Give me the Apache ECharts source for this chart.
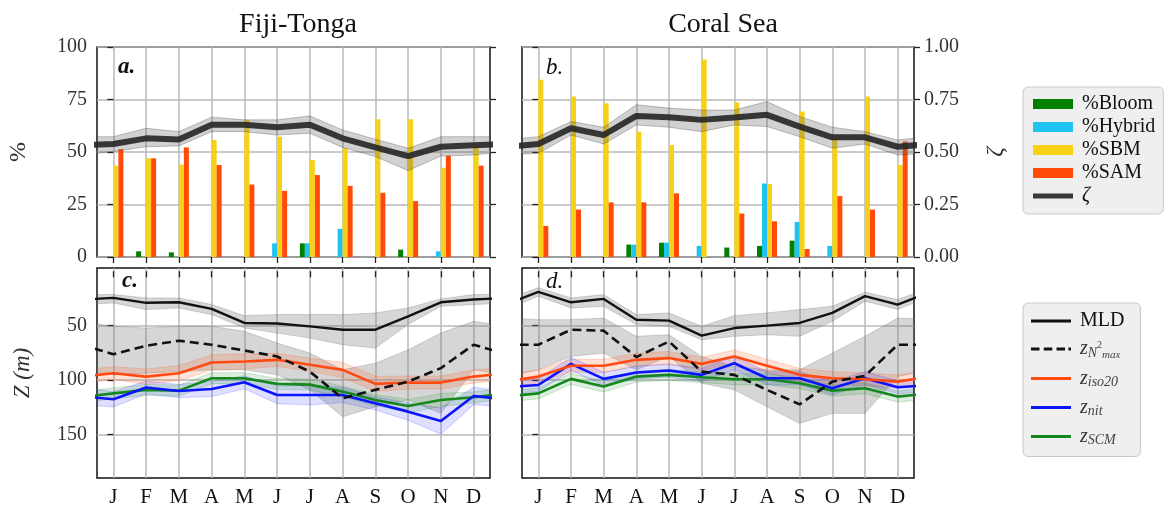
<!DOCTYPE html>
<html><head><meta charset="utf-8">
<script src="https://cdn.jsdelivr.net/npm/echarts@6/dist/echarts.min.js"></script>
<style>html,body{margin:0;padding:0;background:#fff}#c{width:1170px;height:518px}</style>
</head><body><div id="c"></div><script>
// ---------- data ----------
const months = ['J','F','M','A','M','J','J','A','S','O','N','D'];
const monthIdx = [0,1,2,3,4,5,6,7,8,9,10,11];
const pctTicks = [0,25,50,75,100];
const depthTicks = [50,100,150];

// Fiji-Tonga (panel a)
const ftBloom  = [0,2.7,2.2,0,0,0,6.5,0,0,3.5,0,0];
const ftHybrid = [0,0,0,0,0,6.5,6.5,13.4,0,0,2.7,0];
const ftSBM    = [43.5,47,44,55.7,65.3,57.3,46.2,51.8,65.6,65.6,42.5,53.3];
const ftSAM    = [51.3,47,52.2,43.8,34.5,31.5,39,33.9,30.6,26.6,48.2,43.5];
const ftZeta   = [0.538,0.565,0.56,0.63,0.63,0.618,0.63,0.565,0.522,0.48,0.525,0.532];
const ftZetaLo = [0.502,0.525,0.529,0.597,0.597,0.581,0.589,0.522,0.478,0.411,0.481,0.486];
const ftZetaHi = [0.573,0.613,0.597,0.666,0.653,0.653,0.672,0.605,0.561,0.518,0.573,0.573];

// Coral Sea (panel b)
const csBloom  = [0,0,0,5.9,6.8,0,4.5,5.3,7.8,0,0,0];
const csHybrid = [0,0,0,5.9,6.8,5.3,0,35,16.7,5.3,0,0];
const csSBM    = [84.4,76.4,73.2,59.7,53.3,94,73.6,34.7,69.3,56.5,76.4,43.8];
const csSAM    = [14.8,22.6,26,26,30.3,0,20.7,17,3.8,29,22.6,55];
const csZeta   = [0.538,0.613,0.581,0.672,0.666,0.653,0.664,0.677,0.621,0.57,0.57,0.525];
const csZetaLo = [0.494,0.581,0.538,0.629,0.618,0.597,0.629,0.621,0.573,0.518,0.538,0.486];
const csZetaHi = [0.573,0.645,0.618,0.725,0.709,0.70,0.70,0.74,0.669,0.618,0.597,0.557];

// Fiji-Tonga depths (panel c)
const ftMLD   = [24.5,29,28.5,34.6,47.5,48,50.6,53.7,53.7,41.4,28.5,26];
const ftMLDlo = [21.4,24.5,24.5,30.6,40.8,39.8,39.8,39.8,38.3,33.7,25.4,21.4];
const ftMLDhi = [29.1,35.2,33.7,39.8,52.2,56.8,61.4,67.5,70.6,49,32.2,30.6];
const ftN2    = [76.2,68.5,63.8,67.5,72.8,78.3,92.2,116.8,109,101.4,89,67.5];
const ftN2lo  = [50.6,52.2,50.6,50.6,55.2,66,75.2,90.6,84.5,72.2,56.8,46];
const ftN2hi  = [95.2,93.7,92.2,90.6,90.6,95.2,109,133.7,124.5,118.3,130.6,90.6];
const ftIso   = [93.7,96.8,93.7,83.8,82.9,81.4,86,90.6,103.5,102.3,102.3,96.8];
const ftIsoSd = [6,7,7,7,7,6,6,7,7,6,6,6];
const ftNit   = [117.7,106.9,110,108.2,102,113.7,113.7,113.7,121.4,129,137.7,114.6];
const ftNitSd = [7,6,6,7,6,8,9,7,6,8,12,8];
const ftScm   = [112.2,109,109.7,98.3,98.3,103.5,104.2,110.6,118.3,123.8,118.3,115.8];
const ftScmSd = [5,5,5,5,5,5,5,5,5,6,6,5];

// Coral Sea depths (panel d)
const csMLD   = [18.9,28.5,25.4,44.5,45.4,59.2,52.2,50,47.5,38.3,22.9,30.6];
const csMLDlo = [15.1,24.5,21.4,39.8,38.3,50.6,40.8,38.3,35.2,32.2,19.2,26];
const csMLDhi = [22.9,33.7,32.2,49,50.6,62.9,59.8,58.3,59.8,46,27.5,35.2];
const csN2    = [67.5,53.7,54.6,78.9,64.5,92.2,95.2,109,122.3,101.4,96.2,67.5];
const csN2lo  = [44.5,44.5,43,59.8,58.3,78.3,87.5,90.6,90.6,75.2,59.8,43];
const csN2hi  = [90.6,78.3,75.2,90.6,78.3,102.9,109,124.5,139.8,130.6,130.6,96.8];
const csIso   = [96.8,86.9,86.9,81.4,79.8,85.1,78.3,86.9,95.2,98.3,99.2,101.4];
const csIsoSd = [6,6,6,6,6,6,6,6,6,6,6,6];
const csNit   = [104.5,85.1,98.9,93.1,91.2,95.2,84.5,98.3,98.3,107.5,98.3,106.6];
const csNitSd = [6,6,6,6,6,6,6,6,6,6,6,6];
const csScm   = [112.2,98.9,106,96.8,95.2,97.4,99.2,99.2,102.9,109.7,107.5,115.2];
const csScmSd = [5,5,5,5,5,5,5,5,5,5,5,5];

// ---------- styling ----------
const SERIF = "'Liberation Serif','DejaVu Serif',serif";
const C = {bloom:'#008000', hybrid:'#1ec3f2', sbm:'#f7d117', sam:'#ff4a0a',
           iso:'#ff4a12', nit:'#0a14ff', scm:'#14881e'};
const GRIDC = '#b9b9b9';

function wrap(arr){
  const out = [[-1, arr[11]]];
  arr.forEach((v,i)=>out.push([i,v]));
  out.push([12, arr[0]]);
  return out;
}
function barSeries(name, arr, color, xi, yi){
  return {type:'bar', name, xAxisIndex:xi, yAxisIndex:yi, barWidth:5, barGap:'0%',
    data: arr.map((v,i)=>[i,v]), itemStyle:{color}, z:2, silent:true};
}
function band(lo, hi, xi, yi, fill, edge, z){
  const L = wrap(lo), H = wrap(hi);
  return {type:'custom', xAxisIndex:xi, yAxisIndex:yi, silent:true, z,
    data:[[0, lo[0]]],
    renderItem:(params, api)=>{
      const cs = params.coordSys;
      const pts = L.map(p=>api.coord(p)).concat(H.slice().reverse().map(p=>api.coord(p)));
      return {type:'polygon', shape:{points:pts},
        style:{fill, stroke:edge, lineWidth:1},
        clipPath:{type:'rect', shape:{x:cs.x, y:cs.y, width:cs.width, height:cs.height}}};
    }};
}
function line(name, arr, xi, yi, color, width, type, z){
  return {type:'line', name, xAxisIndex:xi, yAxisIndex:yi, data: wrap(arr), symbol:'none',
    silent:true, z, lineStyle:{color, width, type: type||'solid'}, itemStyle:{color}};
}
function sdLo(v, sd){ return v.map((x,i)=>x-sd[i]); }
function sdHi(v, sd){ return v.map((x,i)=>x+sd[i]); }

// ---------- axes ----------
const tickStyle = {show:true, inside:false, length:6, lineStyle:{color:'#222', width:1.3}};
function xAx(gi, labels){
  return {type:'value', gridIndex:gi, min:-0.5, max:11.5,
    axisLine:{show:false},
    axisTick:Object.assign({customValues:monthIdx}, tickStyle),
    axisLabel:{show:labels, customValues:monthIdx, formatter:v=>months[Math.round(v)]||'',
      fontFamily:SERIF, fontSize:21, color:'#111', margin:9},
    splitLine:{show:true, lineStyle:{color:GRIDC, width:1.5}}};
}
const yAxes = [
  {type:'value', gridIndex:0, min:0, max:100, interval:25, position:'left',
   name:'%', nameLocation:'middle', nameGap:66, nameTextStyle:{fontFamily:SERIF, fontSize:24, color:'#333'},
   axisLine:{show:false}, axisTick:tickStyle,
   axisLabel:{fontFamily:SERIF, fontSize:20, color:'#333', margin:10},
   splitLine:{show:true, lineStyle:{color:GRIDC, width:1.5}}},
  {type:'value', gridIndex:0, min:0, max:1, interval:0.25, position:'right',
   axisLine:{show:false}, axisTick:tickStyle, axisLabel:{show:false}, splitLine:{show:false}},
  {type:'value', gridIndex:1, min:0, max:100, interval:25, position:'left',
   axisLine:{show:false}, axisTick:tickStyle, axisLabel:{show:false},
   splitLine:{show:true, lineStyle:{color:GRIDC, width:1.5}}},
  {type:'value', gridIndex:1, min:0, max:1, interval:0.25, position:'right',
   name:'ζ', nameLocation:'middle', nameGap:70, nameRotate:90,
   nameTextStyle:{fontFamily:SERIF, fontSize:24, fontStyle:'italic', color:'#333'},
   axisLine:{show:false}, axisTick:tickStyle,
   axisLabel:{fontFamily:SERIF, fontSize:20, color:'#333', margin:10, formatter:v=>v.toFixed(2)},
   splitLine:{show:false}},
  {type:'value', gridIndex:2, min:-3, max:190, inverse:true, position:'left',
   name:'Z (m)', nameLocation:'middle', nameGap:63,
   nameTextStyle:{fontFamily:SERIF, fontSize:23, fontStyle:'italic', color:'#333'},
   axisLine:{show:false}, axisTick:Object.assign({customValues:depthTicks}, tickStyle),
   axisLabel:{customValues:depthTicks, fontFamily:SERIF, fontSize:20, color:'#333', margin:10},
   splitLine:{show:true, lineStyle:{color:GRIDC, width:1.5}}},
  {type:'value', gridIndex:3, min:-3, max:190, inverse:true, position:'left',
   axisLine:{show:false}, axisTick:Object.assign({customValues:depthTicks}, tickStyle),
   axisLabel:{show:false, customValues:depthTicks},
   splitLine:{show:true, lineStyle:{color:GRIDC, width:1.5}}}
];

// ---------- series ----------
const series = [];
series.push(barSeries('%Bloom', ftBloom, C.bloom, 0, 0));
series.push(barSeries('%Hybrid', ftHybrid, C.hybrid, 0, 0));
series.push(barSeries('%SBM', ftSBM, C.sbm, 0, 0));
series.push(barSeries('%SAM', ftSAM, C.sam, 0, 0));
series.push(band(ftZetaLo, ftZetaHi, 0, 1, 'rgba(90,90,90,0.28)', 'rgba(60,60,60,0.3)', 3));
series.push(line('ζ', ftZeta, 0, 1, 'rgba(40,40,40,0.92)', 6, 'solid', 4));
series.push(barSeries('%Bloom', csBloom, C.bloom, 1, 2));
series.push(barSeries('%Hybrid', csHybrid, C.hybrid, 1, 2));
series.push(barSeries('%SBM', csSBM, C.sbm, 1, 2));
series.push(barSeries('%SAM', csSAM, C.sam, 1, 2));
series.push(band(csZetaLo, csZetaHi, 1, 3, 'rgba(90,90,90,0.28)', 'rgba(60,60,60,0.3)', 3));
series.push(line('ζ', csZeta, 1, 3, 'rgba(40,40,40,0.92)', 6, 'solid', 4));

function depthPanel(xi, yi, d){
  series.push(band(d.mlo, d.mhi, xi, yi, 'rgba(120,120,120,0.3)', 'rgba(120,120,120,0.3)', 2));
  series.push(band(d.nlo, d.nhi, xi, yi, 'rgba(120,120,120,0.3)', 'rgba(120,120,120,0.3)', 2));
  series.push(band(sdLo(d.iso,d.isoSd), sdHi(d.iso,d.isoSd), xi, yi, 'rgba(255,90,30,0.18)', 'rgba(255,90,30,0.22)', 3));
  series.push(band(sdLo(d.nit,d.nitSd), sdHi(d.nit,d.nitSd), xi, yi, 'rgba(40,40,255,0.15)', 'rgba(40,40,255,0.2)', 3));
  series.push(band(sdLo(d.scm,d.scmSd), sdHi(d.scm,d.scmSd), xi, yi, 'rgba(20,140,30,0.15)', 'rgba(20,140,30,0.2)', 3));
  series.push(line('SCM', d.scm, xi, yi, C.scm, 2.6, 'solid', 5));
  series.push(line('nit', d.nit, xi, yi, C.nit, 2.6, 'solid', 5));
  series.push(line('iso20', d.iso, xi, yi, C.iso, 2.6, 'solid', 5));
  series.push(line('N2max', d.n2, xi, yi, '#111', 2.6, [9,5], 6));
  series.push(line('MLD', d.mld, xi, yi, '#111', 2.4, 'solid', 6));
}
depthPanel(2, 4, {mld:ftMLD, mlo:ftMLDlo, mhi:ftMLDhi, n2:ftN2, nlo:ftN2lo, nhi:ftN2hi,
  iso:ftIso, isoSd:ftIsoSd, nit:ftNit, nitSd:ftNitSd, scm:ftScm, scmSd:ftScmSd});
depthPanel(3, 5, {mld:csMLD, mlo:csMLDlo, mhi:csMLDhi, n2:csN2, nlo:csN2lo, nhi:csN2hi,
  iso:csIso, isoSd:csIsoSd, nit:csNit, nitSd:csNitSd, scm:csScm, scmSd:csScmSd});

// ---------- legend icons ----------
const ICON_BAR = 'rect';
const ICON_THICK = 'path://M0,0h40v5h-40z';
const ICON_LINE = 'path://M0,0h40v3h-40z';
const ICON_DASH = 'path://M0,0h10v3.4h-10z M15,0h10v3.4h-10z M30,0h10v3.4h-10z M44,0h3v3.4h-3z';

// ---------- option ----------
const gridBase = {show:true, borderColor:'#111', borderWidth:1.5, backgroundColor:'#fff', containLabel:false};
const legendBox = {orient:'vertical', backgroundColor:'rgba(238,238,238,0.95)', borderColor:'#c8c8c8',
  borderWidth:1, borderRadius:5, itemWidth:40, itemHeight:10, selectedMode:false};
const option = {
  backgroundColor:'#fff',
  animation:false,
  title:[
    {text:'Fiji-Tonga', left:293, top:6, textAlign:'center',
     textStyle:{fontFamily:SERIF, fontSize:28, fontWeight:'normal', color:'#111'}},
    {text:'Coral Sea', left:718, top:6, textAlign:'center',
     textStyle:{fontFamily:SERIF, fontSize:28, fontWeight:'normal', color:'#111'}}
  ],
  grid:[
    Object.assign({left:97, top:47, width:393, height:210}, gridBase),
    Object.assign({left:522, top:47, width:392, height:210}, gridBase),
    Object.assign({left:97, top:268, width:393, height:210}, gridBase),
    Object.assign({left:522, top:268, width:392, height:210}, gridBase)
  ],
  xAxis:[xAx(0,false), xAx(1,false), xAx(2,true), xAx(3,true)],
  yAxis:yAxes,
  legend:[
    Object.assign({left:1023, top:87, padding:[7,8,8,10], itemGap:3,
      data:[{name:'%Bloom',icon:ICON_BAR},{name:'%Hybrid',icon:ICON_BAR},{name:'%SBM',icon:ICON_BAR},
            {name:'%SAM',icon:ICON_BAR},{name:'ζ',icon:ICON_THICK}],
      formatter:n=> n==='ζ' ? '{it|ζ}' : n,
      textStyle:{fontFamily:SERIF, fontSize:20, color:'#111', padding:[0,0,0,4],
        rich:{it:{fontFamily:SERIF, fontSize:20, fontStyle:'italic', color:'#111'}}}}, legendBox),
    Object.assign({left:1023, top:303, padding:[8,16,9,8], itemGap:8,
      data:[{name:'MLD',icon:ICON_LINE},{name:'N2max',icon:ICON_DASH},{name:'iso20',icon:ICON_LINE},
            {name:'nit',icon:ICON_LINE},{name:'SCM',icon:ICON_LINE}],
      formatter:n=>{
        if(n==='MLD') return '{rm|MLD}';
        if(n==='N2max') return '{z|z}{sb|N}{sp|2}{sb2|max}';
        return '{z|z}{sb|'+n+'}';
      },
      textStyle:{fontFamily:SERIF, fontSize:20, color:'#111', padding:[0,0,0,4],
        rich:{
          rm:{fontFamily:SERIF, fontSize:20, color:'#111', lineHeight:20},
          z:{fontFamily:SERIF, fontSize:20, fontStyle:'italic', color:'#333', lineHeight:20},
          sb:{fontFamily:SERIF, fontSize:14, fontStyle:'italic', color:'#444', padding:[8,0,0,0]},
          sp:{fontFamily:SERIF, fontSize:10, color:'#444', padding:[0,0,8,0]},
          sb2:{fontFamily:SERIF, fontSize:11, fontStyle:'italic', color:'#444', padding:[12,0,0,0]}
        }}}, legendBox)
  ],
  graphic:[
    {type:'text', left:118, top:56, style:{text:'a.', font:"italic bold 23px 'Liberation Serif', serif", fill:'#111'}},
    {type:'text', left:546, top:56, style:{text:'b.', font:"italic 23px 'Liberation Serif', serif", fill:'#111'}},
    {type:'text', left:122, top:270, style:{text:'c.', font:"italic bold 23px 'Liberation Serif', serif", fill:'#111'}},
    {type:'text', left:546, top:270, style:{text:'d.', font:"italic 23px 'Liberation Serif', serif", fill:'#111'}}
  ],
  series
};
const chart = echarts.init(document.getElementById('c'), null, {renderer:'canvas'});
chart.setOption(option);
</script></body></html>
